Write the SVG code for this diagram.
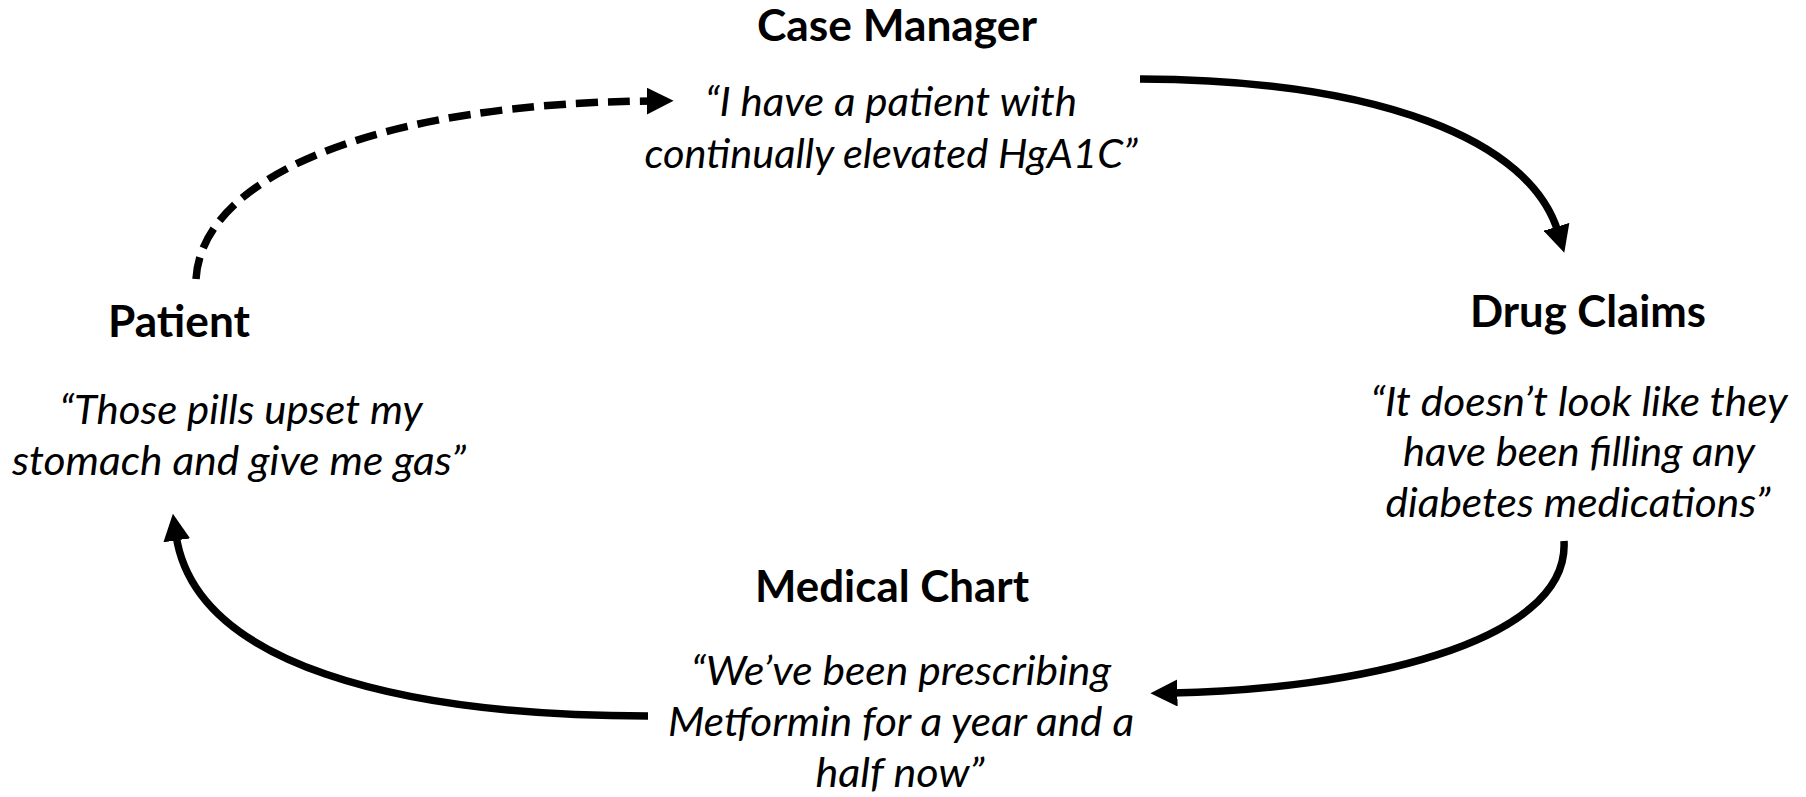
<svg xmlns="http://www.w3.org/2000/svg" width="1806" height="797" viewBox="0 0 1806 797">
<style>
.t{font-family:Lato,"Open Sans","Liberation Sans",sans-serif;font-weight:bold;font-size:43px;fill:#000;text-anchor:middle}
.q{font-family:Lato,"Open Sans","Liberation Sans",sans-serif;font-style:italic;font-size:40px;fill:#000;text-anchor:middle}
.c{fill:none;stroke:#000;stroke-width:7.5}
.d{stroke-dasharray:22 10}
</style>
<defs>
<marker id="ah" viewBox="0 0 10 10" refX="2" refY="5" markerWidth="3.6" markerHeight="3.6" markerUnits="strokeWidth" orient="auto">
<path d="M0,0 L10,5 L0,10 Z" fill="#000"/>
</marker>
</defs>
<rect width="1806" height="797" fill="#fff"/>
<g id="connectors">
<path class="c d" d="M196,279 C202,175 380,103 652,101" marker-end="url(#ah)"/>
<path class="c" d="M1140,79 C1380,80 1530,140 1558,232" marker-end="url(#ah)"/>
<path class="c" d="M1564,541 C1570,645 1350,690 1172,693" marker-end="url(#ah)"/>
<path class="c" d="M648,716 C400,716 195,665 176,535" marker-end="url(#ah)"/>
</g>
<g id="case-manager">
<text class="t" x="897" y="41" textLength="280" lengthAdjust="spacingAndGlyphs">Case Manager</text>
<text class="q" x="891" y="116" textLength="372" lengthAdjust="spacingAndGlyphs">“I have a patient with</text>
<text class="q" x="891" y="168" textLength="493" lengthAdjust="spacingAndGlyphs">continually elevated HgA1C”</text>
</g>
<g id="drug-claims">
<text class="t" x="1588" y="327" textLength="236" lengthAdjust="spacingAndGlyphs">Drug Claims</text>
<text class="q" x="1579" y="416" textLength="417" lengthAdjust="spacingAndGlyphs">“It doesn’t look like they</text>
<text class="q" x="1579" y="466" textLength="352" lengthAdjust="spacingAndGlyphs">have been filling any</text>
<text class="q" x="1578" y="517" textLength="385" lengthAdjust="spacingAndGlyphs">diabetes medications”</text>
</g>
<g id="medical-chart">
<text class="t" x="892" y="602" textLength="274" lengthAdjust="spacingAndGlyphs">Medical Chart</text>
<text class="q" x="901" y="685" textLength="420" lengthAdjust="spacingAndGlyphs">“We’ve been prescribing</text>
<text class="q" x="901" y="736" textLength="466" lengthAdjust="spacingAndGlyphs">Metformin for a year and a</text>
<text class="q" x="900" y="787" textLength="169" lengthAdjust="spacingAndGlyphs">half now”</text>
</g>
<g id="patient">
<text class="t" x="179" y="337" textLength="142" lengthAdjust="spacingAndGlyphs">Patient</text>
<text class="q" x="241" y="424" textLength="363" lengthAdjust="spacingAndGlyphs">“Those pills upset my</text>
<text class="q" x="239" y="475" textLength="454" lengthAdjust="spacingAndGlyphs">stomach and give me gas”</text>
</g>
</svg>
